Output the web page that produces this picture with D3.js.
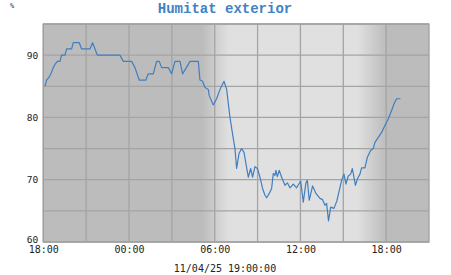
<!DOCTYPE html>
<html>
<head>
<meta charset="utf-8">
<script src="https://cdn.jsdelivr.net/npm/d3@7"></script>
<style>
  html, body { margin: 0; padding: 0; background: #ffffff; }
  svg { display: block; }
</style>
</head>
<body>
<svg id="chart" width="451" height="275"></svg>
<script>
// ---- data ----
const startTime = "2025-04-10T18:00:00";
const endTime = "2025-04-11T21:00:00";
const minutesFromStart = [7,14,25,32,42,49,59,70,77,91,98,119,126,142,151,161,196,207,217,227,238,322,336,371,385,403,431,441,462,476,487,497,525,539,553,574,585,601,616,651,658,669,679,693,697,714,728,742,759,770,784,798,805,812,822,833,843,851,861,871,879,889,899,910,921,931,938,949,959,966,973,977,983,991,1001,1015,1025,1036,1050,1064,1081,1092,1103,1109,1117,1131,1145,1162,1173,1183,1190,1198,1207,1221,1233,1253,1263,1271,1281,1291,1298,1311,1320,1330,1337,1351,1361,1375,1386,1393,1407,1421,1435,1449,1463,1473,1484,1500];
const humidity = [85,86,86.5,87,88,88.5,89,89,90,90,91,91,92,92,92,91,91,92,91,90,90,90,89,89,88,86,86,87,87,89,89,88,88,87,89,89,87,88,89,89,86,85.8,84.8,84.5,83.5,82,83,84.5,85.8,84.5,80,76.6,75,71.8,74.2,75,74.4,72.6,70.4,71.8,70.4,72.1,71.8,70.4,68.6,67.5,67.1,67.8,68.6,71,70.7,71.5,70.5,71.5,70.4,69.1,69.5,68.7,69.3,68.7,69.8,66.4,69.5,69.9,66.7,69,67.8,67,66.8,65.9,66.2,63.4,65.6,65.4,66.6,69.9,70.9,69.3,70.6,70.9,71.8,69.1,70.2,70.9,71.9,71.9,73.6,74.7,75,76,76.8,77.6,78.7,79.8,81.1,82.2,83,83];
const yTicks = [60,70,80,90];
const yGrid = [60,65,70,75,80,85,90,95];
const xTickLabels = ["2025-04-10T18:00:00","2025-04-11T00:00:00","2025-04-11T06:00:00","2025-04-11T12:00:00","2025-04-11T18:00:00"];
const dawn = ["2025-04-11T05:05:00","2025-04-11T07:00:00"];
const dusk = ["2025-04-11T16:00:00","2025-04-11T18:00:00"];
const titleText = "Humitat exterior";
const unitText = "%";
const dateText = "11/04/25 19:00:00";

// ---- drawing ----
const svg = d3.select("#chart");
const L = 43.3, R = 429, T = 24, B = 242;
const t0 = new Date(startTime);
const x = d3.scaleTime().domain([t0, new Date(endTime)]).range([L, R]);
const y = d3.scaleLinear().domain([60, 95]).range([B, T]);

const nightCol = "#bcbcbc", dayCol = "#e0e0e0";
const grad = svg.append("defs").append("linearGradient")
  .attr("id", "bg").attr("gradientUnits", "userSpaceOnUse")
  .attr("x1", L).attr("x2", R).attr("y1", 0).attr("y2", 0);
const pos = t => (x(new Date(t)) - L) / (R - L);
[[0, nightCol], [pos(dawn[0]), nightCol], [pos(dawn[1]), dayCol],
 [pos(dusk[0]), dayCol], [pos(dusk[1]), nightCol], [1, nightCol]].forEach(([o, c]) => {
  grad.append("stop").attr("offset", o).attr("stop-color", c);
});
svg.append("rect").attr("x", L).attr("y", T).attr("width", R - L).attr("height", B - T)
  .attr("fill", "url(#bg)");

// grid
const vGrid = d3.timeHour.every(3).range(t0, new Date(endTime));
svg.append("g").selectAll("line").data(vGrid).join("line")
  .attr("x1", d => x(d)).attr("x2", d => x(d)).attr("y1", T).attr("y2", B)
  .attr("stroke", "#a4a4a4").attr("stroke-width", 1.3);
svg.append("g").selectAll("line").data(yGrid).join("line")
  .attr("x1", L).attr("x2", R).attr("y1", d => y(d)).attr("y2", d => y(d))
  .attr("stroke", "#a4a4a4").attr("stroke-width", 1.3);
svg.append("rect").attr("x", L).attr("y", T).attr("width", R - L).attr("height", B - T)
  .attr("fill", "none").attr("stroke", "#a0a0a0").attr("stroke-width", 1.3);

// line
const data = minutesFromStart.map((m, i) => ({ t: new Date(t0.getTime() + m * 60000), v: humidity[i] }));
svg.append("path").datum(data)
  .attr("fill", "none").attr("stroke", "#3f7fbf").attr("stroke-width", 1.2)
  .attr("stroke-linejoin", "round")
  .attr("d", d3.line().x(d => x(d.t)).y(d => y(d.v)));

// axes
const font = "'DejaVu Sans Mono', monospace";
const yAxis = svg.append("g").attr("transform", `translate(${L},0)`)
  .call(d3.axisLeft(y).tickValues(yTicks).tickSize(0).tickPadding(5).tickFormat(d3.format("d")));
yAxis.select(".domain").remove();
yAxis.selectAll("text").attr("font-family", font).attr("font-size", 9.5).attr("fill", "#222");
yAxis.selectAll(".tick").filter(d => d === 60).select("text").attr("dy", "0.1em");

const xAxis = svg.append("g").attr("transform", `translate(0,${B})`)
  .call(d3.axisBottom(x).tickValues(xTickLabels.map(s => new Date(s))).tickSize(0).tickPadding(4)
    .tickFormat(d3.timeFormat("%H:%M")));
xAxis.select(".domain").remove();
xAxis.selectAll("text").attr("font-family", font).attr("font-size", 10).attr("fill", "#222");

svg.append("text").attr("x", 225).attr("y", 272).attr("text-anchor", "middle")
  .attr("font-family", font).attr("font-size", 10).attr("fill", "#222").text(dateText);

svg.append("text").attr("x", 225).attr("y", 13).attr("text-anchor", "middle")
  .attr("font-family", "'Liberation Mono', monospace").attr("font-weight", "bold")
  .attr("font-size", 14).attr("fill", "#3f82c4").text(titleText);

svg.append("text").attr("x", 12).attr("y", 8).attr("text-anchor", "middle")
  .attr("font-family", font).attr("font-size", 7).attr("fill", "#333").text(unitText);
</script>
</body>
</html>
